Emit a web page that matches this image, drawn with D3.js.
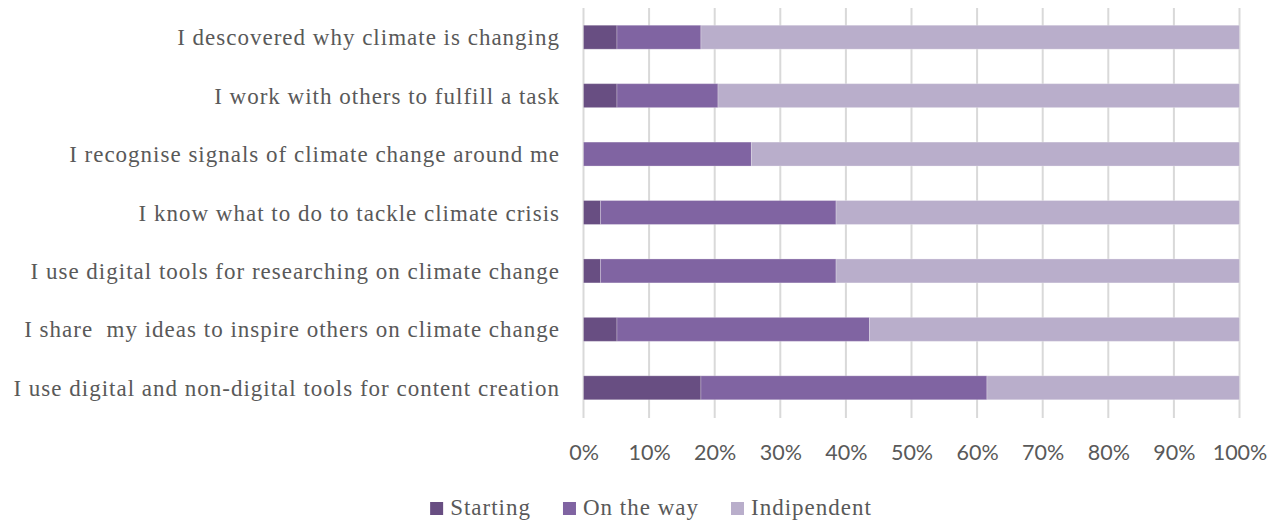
<!DOCTYPE html>
<html>
<head>
<meta charset="utf-8">
<script src="https://cdn.jsdelivr.net/npm/d3@7"></script>
<style>
  html, body { margin: 0; padding: 0; background: #fff; }
  svg { display: block; }
</style>
</head>
<body>
<svg id="chart" width="1288" height="524"></svg>
<script>
const categories = [
  "I descovered why climate is changing",
  "I work with others to fulfill a task",
  "I recognise signals of climate change around me",
  "I know what to do to tackle climate crisis",
  "I use digital tools for researching on climate change",
  "I share  my ideas to inspire others on climate change",
  "I use digital and non-digital tools for content creation"
];
const seriesNames = ["Starting", "On the way", "Indipendent"];
const starting    = [5.1, 5.1, 0.0, 2.6, 2.6, 5.1, 17.9];
const onTheWay    = [12.8, 15.4, 25.6, 35.9, 35.9, 38.5, 43.6];
const independent = [82.1, 79.5, 74.4, 61.5, 61.5, 56.4, 38.5];
const xTicks = [0, 10, 20, 30, 40, 50, 60, 70, 80, 90, 100];
const colors = ["#684e82", "#8064a2", "#b9aecb"];

const svg = d3.select("#chart");
const x = d3.scaleLinear().domain([0, 100]).range([583.5, 1239.5]);
const y = d3.scaleBand().domain(categories).range([8, 417]).paddingInner(0.59).paddingOuter(0.295);

// gridlines
svg.append("g").selectAll("line").data(xTicks).join("line")
  .attr("x1", d => x(d)).attr("x2", d => x(d))
  .attr("y1", 8).attr("y2", 418)
  .attr("stroke", "#d9d9d9").attr("stroke-width", 2);

const rows = categories.map((c, i) => ({ cat: c, Starting: starting[i], "On the way": onTheWay[i], Indipendent: independent[i] }));
const stack = d3.stack().keys(seriesNames)(rows);

svg.append("g").selectAll("g").data(stack).join("g")
  .attr("fill", (d, i) => colors[i])
  .selectAll("rect").data(d => d).join("rect")
  .attr("x", d => x(d[0]))
  .attr("width", d => Math.max(0, x(d[1]) - x(d[0])))
  .attr("y", d => y(d.data.cat))
  .attr("height", y.bandwidth())
  .attr("stroke", "rgba(255,255,255,0.25)")
  .attr("stroke-width", 1);

// category labels
svg.append("g").selectAll("text").data(categories).join("text")
  .attr("x", 560)
  .attr("y", d => y(d) + y.bandwidth() / 2)
  .attr("dy", "0.35em")
  .attr("text-anchor", "end")
  .attr("font-family", "'Liberation Serif', serif")
  .attr("font-size", 23)
  .attr("letter-spacing", 1.0)
  .attr("fill", "#595959")
  .style("white-space", "pre")
  .text(d => d);

// x axis labels
const xAxis = d3.axisBottom(x).tickValues(xTicks).tickFormat(d => d + "%").tickSize(0).tickPadding(0);
const ax = svg.append("g").attr("transform", "translate(0,445)").call(xAxis);
ax.select(".domain").remove();
ax.selectAll("text")
  .attr("font-family", "Lato, sans-serif")
  .attr("font-size", 21.5)
  .attr("fill", "#595959");

// legend
const legend = svg.append("g");
let cx = 0;
seriesNames.forEach((name, i) => {
  const g = legend.append("g");
  g.append("rect").attr("x", 0).attr("y", -13).attr("width", 13).attr("height", 13).attr("fill", colors[i]);
  const t = g.append("text").attr("x", 20).attr("y", 0)
    .attr("font-family", "'Liberation Serif', serif")
    .attr("font-size", 23).attr("letter-spacing", 1.0)
    .attr("fill", "#595959").text(name);
  const w = 20 + t.node().getComputedTextLength();
  g.attr("transform", `translate(${cx},0)`);
  cx += w + 32;
});
const total = cx - 32;
legend.attr("transform", `translate(${651 - total / 2},515)`);
</script>
</body>
</html>
